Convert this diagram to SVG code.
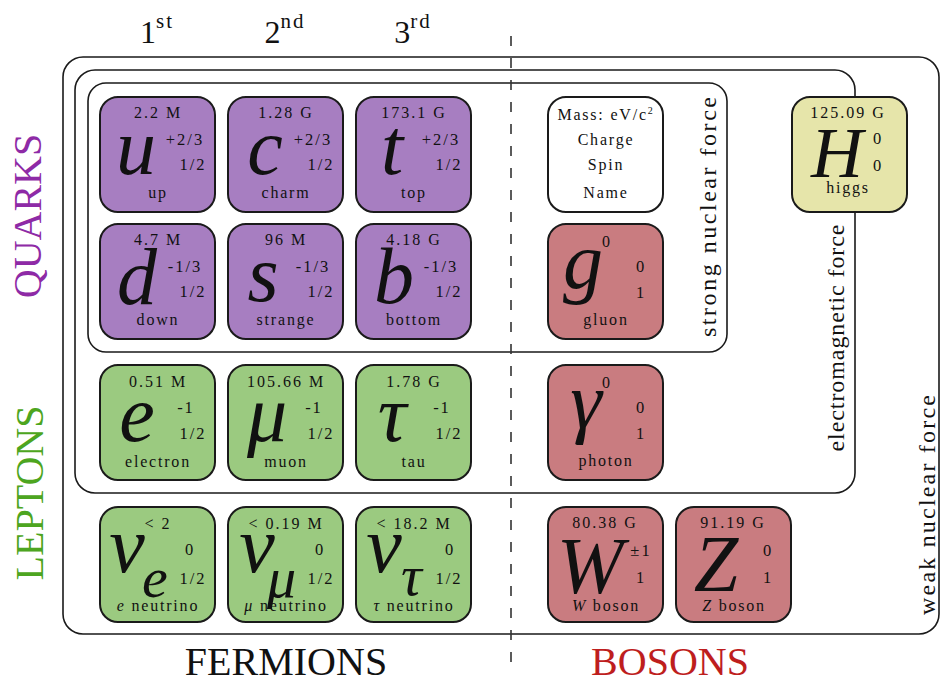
<svg xmlns="http://www.w3.org/2000/svg" width="941" height="682" viewBox="0 0 941 682" font-family="'Liberation Serif', 'Times New Roman', serif">
<defs>
<style>
text{font-family:"Liberation Serif","Times New Roman",serif;fill:#111}
.frame{fill:none;stroke:#1a1a1a;stroke-width:1.6}
.cell rect{stroke:#1a1a1a;stroke-width:2}
.q rect{fill:#A77EC1}
.l rect{fill:#9BCA80}
.b rect{fill:#C97C80}
.h rect{fill:#E6E5AA}
.w rect{fill:#ffffff}
.mass{font-size:16px;letter-spacing:2px;text-anchor:middle}
.chg{font-size:16.5px;letter-spacing:2px;text-anchor:middle}
.name{font-size:16px;letter-spacing:1.8px;text-anchor:middle}
.sym{font-size:80px;font-style:italic;text-anchor:middle}
.sub{font-size:58px;font-style:italic}
.force{font-size:24px}
.big{font-size:40px}
.gen{font-size:32px;text-anchor:middle}
.divider{stroke:#333;stroke-width:1.6;stroke-dasharray:10 12;fill:none}
</style>
</defs>
<rect width="941" height="682" fill="#ffffff"/>

<!-- force frames -->
<g id="weak-force">
<rect class="frame" x="63" y="57" width="876" height="577" rx="20"/>
<text class="force" transform="translate(935,505) rotate(-90)" text-anchor="middle" textLength="220" lengthAdjust="spacing">weak nuclear force</text>
</g>
<g id="electromagnetic-force">
<rect class="frame" x="75" y="70" width="780" height="423" rx="20"/>
<text class="force" transform="translate(844,338) rotate(-90)" text-anchor="middle" textLength="227" lengthAdjust="spacing">electromagnetic force</text>
</g>
<g id="strong-force">
<rect class="frame" x="88" y="83" width="639" height="269" rx="18"/>
<text class="force" transform="translate(716,217) rotate(-90)" text-anchor="middle" textLength="240" lengthAdjust="spacing">strong nuclear force</text>
</g>

<g id="connectors">
<line class="divider" x1="511" y1="36" x2="511" y2="672"/>
</g>

<!-- headers -->
<g id="headers">
<text class="gen" x="157" y="43">1<tspan font-size="21" dy="-15" letter-spacing="2">st</tspan></text>
<text class="gen" x="285" y="43">2<tspan font-size="21" dy="-15" letter-spacing="2">nd</tspan></text>
<text class="gen" x="413" y="43">3<tspan font-size="21" dy="-15" letter-spacing="2">rd</tspan></text>
<text class="big" transform="translate(41,216) rotate(-90)" text-anchor="middle" style="fill:#8E2AA6">QUARKS</text>
<text class="big" transform="translate(43,493) rotate(-90)" text-anchor="middle" style="fill:#4DA520">LEPTONS</text>
<text class="big" x="286" y="675" text-anchor="middle">FERMIONS</text>
<text class="big" x="670" y="675" text-anchor="middle" style="fill:#BE1E1E">BOSONS</text>
</g>

<!-- quarks -->
<g id="up" class="cell q" transform="translate(100,97)">
<rect width="115" height="115" rx="18"/>
<text class="mass" x="58" y="21">2.2 M</text>
<text class="sym" x="36" y="77">u</text>
<text class="chg" x="85" y="48">+2/3</text>
<text class="chg" x="93" y="73">1/2</text>
<text class="name" x="58" y="101">up</text>
</g>
<g id="charm" class="cell q" transform="translate(228,97)">
<rect width="115" height="115" rx="18"/>
<text class="mass" x="58" y="21">1.28 G</text>
<text class="sym" x="37" y="77">c</text>
<text class="chg" x="85" y="48">+2/3</text>
<text class="chg" x="93" y="73">1/2</text>
<text class="name" x="58" y="101">charm</text>
</g>
<g id="top" class="cell q" transform="translate(356,97)">
<rect width="115" height="115" rx="18"/>
<text class="mass" x="58" y="21">173.1 G</text>
<text class="sym" x="36" y="77">t</text>
<text class="chg" x="85" y="48">+2/3</text>
<text class="chg" x="93" y="73">1/2</text>
<text class="name" x="58" y="101">top</text>
</g>
<g id="down" class="cell q" transform="translate(100,224)">
<rect width="115" height="115" rx="18"/>
<text class="mass" x="58" y="21">4.7 M</text>
<text class="sym" x="37" y="80">d</text>
<text class="chg" x="85" y="48">-1/3</text>
<text class="chg" x="93" y="73">1/2</text>
<text class="name" x="58" y="101">down</text>
</g>
<g id="strange" class="cell q" transform="translate(228,224)">
<rect width="115" height="115" rx="18"/>
<text class="mass" x="58" y="21">96 M</text>
<text class="sym" x="35" y="77">s</text>
<text class="chg" x="85" y="48">-1/3</text>
<text class="chg" x="93" y="73">1/2</text>
<text class="name" x="58" y="101">strange</text>
</g>
<g id="bottom" class="cell q" transform="translate(356,224)">
<rect width="115" height="115" rx="18"/>
<text class="mass" x="58" y="21">4.18 G</text>
<text class="sym" x="38" y="79">b</text>
<text class="chg" x="85" y="48">-1/3</text>
<text class="chg" x="93" y="73">1/2</text>
<text class="name" x="58" y="101">bottom</text>
</g>

<!-- leptons -->
<g id="electron" class="cell l" transform="translate(100,365)">
<rect width="115" height="115" rx="18"/>
<text class="mass" x="58" y="22">0.51 M</text>
<text class="sym" x="37" y="76">e</text>
<text class="chg" x="86" y="48">-1</text>
<text class="chg" x="93" y="74">1/2</text>
<text class="name" x="58" y="102">electron</text>
</g>
<g id="muon" class="cell l" transform="translate(228,365)">
<rect width="115" height="115" rx="18"/>
<text class="mass" x="58" y="22">105.66 M</text>
<text class="sym" x="39" y="76">μ</text>
<text class="chg" x="86" y="48">-1</text>
<text class="chg" x="93" y="74">1/2</text>
<text class="name" x="58" y="102">muon</text>
</g>
<g id="tau" class="cell l" transform="translate(356,365)">
<rect width="115" height="115" rx="18"/>
<text class="mass" x="58" y="22">1.78 G</text>
<text class="sym" x="36" y="76">τ</text>
<text class="chg" x="86" y="48">-1</text>
<text class="chg" x="93" y="74">1/2</text>
<text class="name" x="58" y="102">tau</text>
</g>
<g id="e-neutrino" class="cell l" transform="translate(100,507)">
<rect width="115" height="115" rx="18"/>
<text class="mass" x="58" y="22">&lt; 2</text>
<text class="sym" x="27" y="65">ν</text>
<text class="sub" x="42" y="90">e</text>
<text class="chg" x="90" y="48">0</text>
<text class="chg" x="93" y="77">1/2</text>
<text class="name" x="58" y="104"><tspan font-style="italic">e</tspan> neutrino</text>
</g>
<g id="mu-neutrino" class="cell l" transform="translate(228,507)">
<rect width="115" height="115" rx="18"/>
<text class="mass" x="58" y="22">&lt; 0.19 M</text>
<text class="sym" x="29" y="65">ν</text>
<text class="sub" x="39" y="90">μ</text>
<text class="chg" x="92" y="48">0</text>
<text class="chg" x="93" y="77">1/2</text>
<text class="name" x="58" y="104"><tspan font-style="italic">μ</tspan> neutrino</text>
</g>
<g id="tau-neutrino" class="cell l" transform="translate(356,507)">
<rect width="115" height="115" rx="18"/>
<text class="mass" x="58" y="22">&lt; 18.2 M</text>
<text class="sym" x="28" y="65">ν</text>
<text class="sub" x="45" y="88">τ</text>
<text class="chg" x="94" y="48">0</text>
<text class="chg" x="93" y="77">1/2</text>
<text class="name" x="58" y="104"><tspan font-style="italic">τ</tspan> neutrino</text>
</g>

<!-- legend -->
<g id="legend" class="cell w" transform="translate(548,97)">
<rect width="115" height="115" rx="18"/>
<text class="name" x="58" y="23">Mass: eV/c<tspan font-size="10" dy="-6">2</tspan></text>
<text class="name" x="58" y="48">Charge</text>
<text class="name" x="58" y="73">Spin</text>
<text class="name" x="58" y="101">Name</text>
</g>

<!-- bosons -->
<g id="gluon" class="cell b" transform="translate(548,224)">
<rect width="115" height="115" rx="18"/>
<text class="mass" x="59" y="23">0</text>
<text class="sym" x="35" y="64">g</text>
<text class="chg" x="93" y="48">0</text>
<text class="chg" x="93" y="74">1</text>
<text class="name" x="58" y="101">gluon</text>
</g>
<g id="photon" class="cell b" transform="translate(548,365)">
<rect width="115" height="115" rx="18"/>
<text class="mass" x="59" y="23">0</text>
<text class="sym" x="38" y="63">γ</text>
<text class="chg" x="93" y="48">0</text>
<text class="chg" x="93" y="74">1</text>
<text class="name" x="58" y="101">photon</text>
</g>
<g id="w-boson" class="cell b" transform="translate(548,507)">
<rect width="115" height="115" rx="18"/>
<text class="mass" x="57" y="21">80.38 G</text>
<text class="sym" x="42" y="86" font-size="78">W</text>
<text class="chg" x="93" y="49">±1</text>
<text class="chg" x="93" y="76">1</text>
<text class="name" x="58" y="104"><tspan font-style="italic">W</tspan> boson</text>
</g>
<g id="z-boson" class="cell b" transform="translate(676,507)">
<rect width="115" height="115" rx="18"/>
<text class="mass" x="57" y="21">91.19 G</text>
<text class="sym" x="40" y="84">Z</text>
<text class="chg" x="92" y="49">0</text>
<text class="chg" x="92" y="76">1</text>
<text class="name" x="58" y="104"><tspan font-style="italic">Z</tspan> boson</text>
</g>
<g id="higgs" class="cell h" transform="translate(792,97)">
<rect width="115" height="115" rx="18"/>
<text class="mass" x="56" y="21">125.09 G</text>
<text class="sym" x="45" y="80" style="font-size:72px">H</text>
<text class="chg" x="86" y="47">0</text>
<text class="chg" x="86" y="74">0</text>
<text class="name" x="56" y="96">higgs</text>
</g>
</svg>
